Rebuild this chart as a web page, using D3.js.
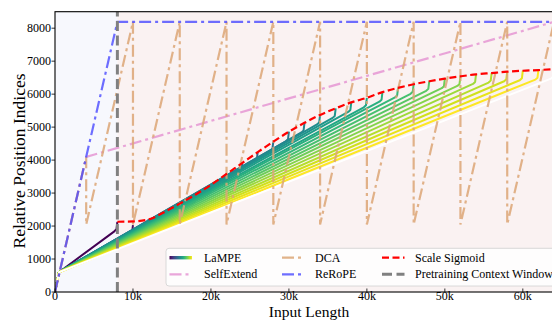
<!DOCTYPE html>
<html>
<head>
<meta charset="utf-8">
<script src="https://cdn.jsdelivr.net/npm/d3@7"></script>
<style>
  body { margin: 0; background: #fff; }
  text { font-family: "Liberation Serif", "Times New Roman", serif; fill: #000; }
</style>
</head>
<body>
<div id="chart"></div>
<script>
// axis ticks
const xTicks = [0, 10240, 20480, 30720, 40960, 51200, 61440]
const xTickLabels = ["0", "10k", "20k", "30k", "40k", "50k", "60k"]
const yTicks = [0, 1000, 2000, 3000, 4000, 5000, 6000, 7000, 8000]

// pretraining window
const pretrainLen = 8192

// ReRoPE
const reropeX = [0, 8192, 65536]
const reropeY = [0, 8192, 8192]

// SelfExtend
const selfExtX = [0, 4096, 65536]
const selfExtY = [0, 4096, 8192]

// DCA sawtooth
const dcaX = [0, 4096, 4096, 10240, 10240, 16384, 16384, 22528, 22528, 28672, 28672,
              34816, 34816, 40960, 40960, 47104, 47104, 53248, 53248, 59392, 59392, 65536]
const dcaY = [0, 4096, 2048, 8192, 2048, 8192, 2048, 8192, 2048, 8192, 2048,
              8192, 2048, 8192, 2048, 8192, 2048, 8192, 2048, 8192, 2048, 8192]

// Scale sigmoid
const sigX = [8192, 10240, 12288, 14336, 16384, 18432, 20480, 22528, 24576, 26624, 28672,
              30720, 32768, 34816, 36864, 38912, 40960, 43008, 45056, 47104, 49152, 51200,
              53248, 55296, 57344, 59392, 61440, 63488, 65536]
const sigY = [2130, 2140, 2200, 2420, 2680, 2950, 3250, 3580, 3910, 4240, 4560,
              4860, 5130, 5370, 5570, 5750, 5890, 6060, 6190, 6300, 6390, 6470,
              6540, 6600, 6640, 6680, 6710, 6730, 6760]

// LaMPE: one curve per input length, ending at its top position
const lampeLen = [8192, 10240, 12288, 14336, 16384, 18432, 20480, 22528, 24576, 26624, 28672,
                  30720, 32768, 34816, 36864, 38912, 40960, 43008, 45056, 47104, 49152, 51200,
                  53248, 55296, 57344, 59392, 61440, 63488, 65536]
const lampeTop = [2130, 2030, 2200, 2420, 2680, 2950, 3250, 3580, 3910, 4240, 4560,
                  4860, 5130, 5370, 5570, 5750, 5890, 6060, 6190, 6300, 6390, 6470,
                  6540, 6600, 6640, 6680, 6710, 6730, 6760]
const lampeKnee = [520, 600]
// hook before the end: [dx back from L, dy below top]
const lampeHook = [[400, 290], [120, 230], [0, 0]]

const W = 552, H = 320
const plot = { left: 55, right: 554, top: 11.7, bottom: 292 }

const svg = d3.select("#chart").append("svg")
    .attr("width", W).attr("height", H)

const x = d3.scaleLinear().domain([0, 65536]).range([plot.left, plot.right])
const y = d3.scaleLinear().domain([0, 8500]).range([plot.bottom, plot.top])

svg.append("defs").append("clipPath").attr("id", "clip")
    .append("rect")
    .attr("x", plot.left).attr("y", plot.top)
    .attr("width", plot.right - plot.left).attr("height", plot.bottom - plot.top)

const g = svg.append("g").attr("clip-path", "url(#clip)")

// background spans
g.append("rect")
    .attr("x", x(0)).attr("y", plot.top)
    .attr("width", x(pretrainLen) - x(0)).attr("height", plot.bottom - plot.top)
    .attr("fill", "#f7f8fd")
g.append("rect")
    .attr("x", x(pretrainLen)).attr("y", plot.top)
    .attr("width", x(65536) - x(pretrainLen)).attr("height", plot.bottom - plot.top)
    .attr("fill", "#faf2f2")

const line = d3.line().x(d => x(d[0])).y(d => y(d[1]))

// LaMPE fan
const n = lampeLen.length
lampeLen.forEach((L, i) => {
    const top = lampeTop[i]
    const pts = [[0, 0], lampeKnee].concat(lampeHook.map(h => [L - h[0], top - h[1]]))
    const col = i === n - 1 ? "#ffffff" : d3.interpolateViridis(i / (n - 2))
    g.append("path")
        .attr("d", line(pts))
        .attr("fill", "none")
        .attr("stroke", col)
        .attr("stroke-width", 2)
        .attr("stroke-linejoin", "round")
})

const dashDot = "12,4,3,4"
const colSelf = "#e597d3", colDca = "#dca675", colRerope = "#4a4aff"

// SelfExtend
g.append("path")
    .attr("d", line(selfExtX.map((v, i) => [v, selfExtY[i]])))
    .attr("fill", "none").attr("stroke", colSelf).attr("stroke-opacity", 0.85)
    .attr("stroke-width", 2.2).attr("stroke-dasharray", dashDot)

// DCA
g.append("path")
    .attr("d", line(dcaX.map((v, i) => [v, dcaY[i]])))
    .attr("fill", "none").attr("stroke", colDca).attr("stroke-opacity", 0.85)
    .attr("stroke-width", 2.2).attr("stroke-dasharray", dashDot)

// ReRoPE
g.append("path")
    .attr("d", line(reropeX.map((v, i) => [v, reropeY[i]])))
    .attr("fill", "none").attr("stroke", colRerope).attr("stroke-opacity", 0.8)
    .attr("stroke-width", 2.2).attr("stroke-dasharray", dashDot)

// Scale sigmoid
g.append("path")
    .attr("d", d3.line().x(d => x(d[0])).y(d => y(d[1])).curve(d3.curveMonotoneX)(sigX.map((v, i) => [v, sigY[i]])))
    .attr("fill", "none").attr("stroke", "#ff0000")
    .attr("stroke-width", 2.2).attr("stroke-dasharray", "7,3.5")

// pretraining window
g.append("line")
    .attr("x1", x(pretrainLen)).attr("x2", x(pretrainLen))
    .attr("y1", plot.bottom).attr("y2", plot.top)
    .attr("stroke", "#808080").attr("stroke-width", 3)
    .attr("stroke-dasharray", "10,4.5")

// spines
svg.append("rect")
    .attr("x", plot.left).attr("y", plot.top)
    .attr("width", plot.right - plot.left).attr("height", plot.bottom - plot.top)
    .attr("fill", "none").attr("stroke", "#000").attr("stroke-width", 1.1)

// x ticks (inward)
xTicks.forEach((t, i) => {
    svg.append("line")
        .attr("x1", x(t)).attr("x2", x(t))
        .attr("y1", plot.bottom).attr("y2", plot.bottom - 3.5)
        .attr("stroke", "#000").attr("stroke-width", 0.8)
    svg.append("text")
        .attr("x", x(t)).attr("y", plot.bottom + 8.2)
        .attr("text-anchor", "middle").attr("font-size", 12)
        .text(xTickLabels[i])
})

// y ticks (outward)
yTicks.forEach(t => {
    svg.append("line")
        .attr("x1", plot.left - 3.5).attr("x2", plot.left)
        .attr("y1", y(t)).attr("y2", y(t))
        .attr("stroke", "#000").attr("stroke-width", 0.8)
    svg.append("text")
        .attr("x", plot.left - 4).attr("y", y(t) + 4)
        .attr("text-anchor", "end").attr("font-size", 12)
        .text(t)
})

// axis labels
svg.append("text")
    .attr("x", 309).attr("y", 316.5)
    .attr("text-anchor", "middle").attr("font-size", 15.5)
    .text("Input Length")
svg.append("text")
    .attr("transform", "translate(25,161) rotate(-90)")
    .attr("text-anchor", "middle").attr("font-size", 17.5)
    .text("Relative Position Indices")

// legend
const leg = svg.append("g")
leg.append("rect")
    .attr("x", 166).attr("y", 248.3).attr("width", 400).attr("height", 37.7)
    .attr("rx", 3)
    .attr("fill", "#ffffff").attr("fill-opacity", 0.8)
    .attr("stroke", "#d0d0d0").attr("stroke-width", 0.8)

const grad = svg.select("defs").append("linearGradient").attr("id", "viridisGrad")
d3.range(0, 1.001, 0.1).forEach(t => {
    grad.append("stop").attr("offset", t).attr("stop-color", d3.interpolateViridis(t))
})

const rows = [257.7, 274.3]
const cols = [[169.5, 204], [282, 315], [382, 415]]
const legendItems = [
    { label: "LaMPE", col: 0, row: 0, grad: true },
    { label: "SelfExtend", col: 0, row: 1, stroke: colSelf, dash: dashDot, op: 0.85 },
    { label: "DCA", col: 1, row: 0, stroke: colDca, dash: dashDot, op: 0.85 },
    { label: "ReRoPE", col: 1, row: 1, stroke: colRerope, dash: dashDot, op: 0.8 },
    { label: "Scale Sigmoid", col: 2, row: 0, stroke: "#ff0000", dash: "7,3.5", op: 1 },
    { label: "Pretraining Context Window", col: 2, row: 1, stroke: "#808080", dash: "10,4.5", op: 1, w: 3 }
]
legendItems.forEach(d => {
    const [hx, tx] = cols[d.col]
    const cy = rows[d.row]
    if (d.grad) {
        leg.append("rect")
            .attr("x", hx).attr("y", cy - 1.7).attr("width", 22.5).attr("height", 3.4)
            .attr("fill", "url(#viridisGrad)")
    } else {
        leg.append("line")
            .attr("x1", hx).attr("x2", hx + 22.5).attr("y1", cy).attr("y2", cy)
            .attr("stroke", d.stroke).attr("stroke-opacity", d.op)
            .attr("stroke-width", d.w || 2.2).attr("stroke-dasharray", d.dash)
    }
    leg.append("text")
        .attr("x", tx).attr("y", cy + 4)
        .attr("font-size", 12)
        .text(d.label)
})
</script>
</body>
</html>
